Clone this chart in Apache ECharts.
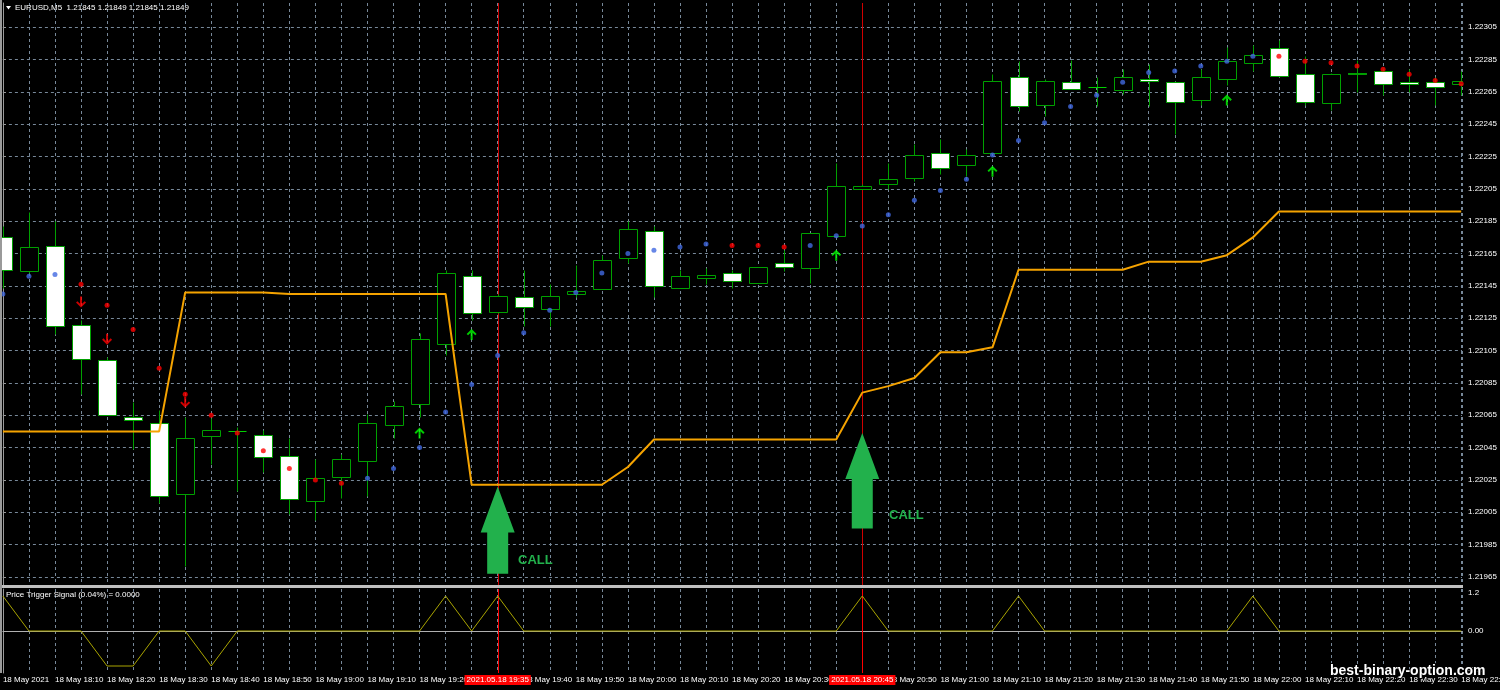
<!DOCTYPE html>
<html><head><meta charset="utf-8">
<script src="https://cdn.jsdelivr.net/npm/echarts@6/dist/echarts.min.js"></script>
<style>html,body{margin:0;padding:0;background:#000;}#c{width:1500px;height:690px;}</style>
</head><body><div id="c"></div>
<script>
// ---------- DATA ----------
const times = ['18:00','18:05','18:10','18:15','18:20','18:25','18:30','18:35','18:40','18:45','18:50','18:55',
'19:00','19:05','19:10','19:15','19:20','19:25','19:30','19:35','19:40','19:45','19:50','19:55',
'20:00','20:05','20:10','20:15','20:20','20:25','20:30','20:35','20:40','20:45','20:50','20:55',
'21:00','21:05','21:10','21:15','21:20','21:25','21:30','21:35','21:40','21:45','21:50','21:55',
'22:00','22:05','22:10','22:15','22:20','22:25','22:30','22:35','22:40'];
const opens  = [1.22175,1.22154,1.22170,1.22121,1.22099,1.22064,1.22060,1.22016,1.22052,1.22055,
1.22053,1.22040,1.22012,1.22027,1.22037,1.22059,1.22072,1.22109,1.22151,1.22129,
1.22138,1.22131,1.22140,1.22143,1.22162,1.22179,1.22144,1.22150,1.22153,1.22147,
1.22159,1.22156,1.22176,1.22205,1.22208,1.22212,1.22227,1.22220,1.22227,1.22274,
1.22257,1.22271,1.22268,1.22266,1.22273,1.22271,1.22260,1.22273,1.22283,1.22292,
1.22276,1.22258,1.22277,1.22278,1.22271,1.22271,1.22270];
const closes = [1.22155,1.22169,1.22120,1.22100,1.22065,1.22062,1.22015,1.22051,1.22056,1.22055,
1.22039,1.22013,1.22026,1.22038,1.22060,1.22071,1.22112,1.22153,1.22128,1.22139,
1.22132,1.22139,1.22142,1.22161,1.22180,1.22145,1.22151,1.22152,1.22148,1.22157,
1.22157,1.22178,1.22207,1.22207,1.22211,1.22226,1.22218,1.22226,1.22272,1.22256,
1.22272,1.22267,1.22268,1.22274,1.22272,1.22259,1.22274,1.22284,1.22288,1.22275,
1.22259,1.22276,1.22276,1.22270,1.22270,1.22268,1.22272];
const lows   = [1.22144,1.22153,1.22115,1.22078,1.22065,1.22044,1.22011,1.21972,1.22035,1.22018,
1.22030,1.22004,1.22000,1.22014,1.22015,1.22051,1.22064,1.22102,1.22124,1.22128,
1.22120,1.22120,1.22138,1.22143,1.22159,1.22138,1.22144,1.22146,1.22144,1.22147,
1.22154,1.22147,1.22176,1.22205,1.22205,1.22210,1.22214,1.22213,1.22227,1.22253,
1.22250,1.22267,1.22256,1.22264,1.22256,1.22239,1.22257,1.22269,1.22278,1.22274,
1.22257,1.22254,1.22265,1.22263,1.22265,1.22257,1.22263];
const highs  = [1.22182,1.22191,1.22185,1.22124,1.22101,1.22073,1.22068,1.22064,1.22063,1.22058,
1.22056,1.22051,1.22038,1.22041,1.22066,1.22074,1.22116,1.22155,1.22155,1.22140,
1.22155,1.22146,1.22158,1.22164,1.22185,1.22182,1.22155,1.22156,1.22155,1.22157,
1.22167,1.22178,1.22221,1.22208,1.22221,1.22233,1.22236,1.22230,1.22276,1.22284,
1.22273,1.22285,1.22274,1.22279,1.22282,1.22272,1.22279,1.22293,1.22294,1.22297,
1.22287,1.22277,1.22285,1.22280,1.22279,1.22274,1.22278];
const trendLine = [1.22055,1.22055,1.22055,1.22055,1.22055,1.22055,1.22055,1.22141,1.22141,1.22141,
1.22141,1.22140,1.22140,1.22140,1.22140,1.22140,1.22140,1.22140,1.22022,1.22022,
1.22022,1.22022,1.22022,1.22022,1.22033,1.22050,1.22050,1.22050,1.22050,1.22050,
1.22050,1.22050,1.22050,1.22079,1.22083,1.22088,1.22104,1.22104,1.22107,1.22155,
1.22155,1.22155,1.22155,1.22155,1.22160,1.22160,1.22160,1.22164,1.22175,1.22191,
1.22191,1.22191,1.22191,1.22191,1.22191,1.22191,1.22191];
const dotPrices = [1.22140,1.22151,1.22152,1.22146,1.22133,1.22118,1.22094,1.22078,1.22065,1.22054,
1.22043,1.22032,1.22025,1.22023,1.22026,1.22032,1.22045,1.22067,1.22084,1.22102,
1.22116,1.22130,1.22141,1.22153,1.22165,1.22167,1.22169,1.22171,1.22170,1.22170,
1.22169,1.22170,1.22176,1.22182,1.22189,1.22198,1.22204,1.22211,1.22226,1.22235,
1.22246,1.22256,1.22263,1.22271,1.22277,1.22278,1.22281,1.22284,1.22287,1.22287,
1.22284,1.22283,1.22281,1.22279,1.22276,1.22272,1.22270];
const dotSides = 'BBBRRRRRRRRRRRBBBBBBBBBBBBBBRRRBBBBBBBBBBBBBBBBBBRRRRRRRR';
const upArrows = [[16,1.22054],[18,1.22115],[32,1.22164],[38,1.22216],[47,1.22260]];
const downArrows = [[3,1.22135],[4,1.22112],[7,1.22073]];
const signal = [1,0,0,0,-1,-1,0,0,-1,0, 0,0,0,0,0,0,0,1,0,1, 0,0,0,0,0,0,0,0,0,0,
0,0,0,1,0,0,0,0,0,1, 0,0,0,0,0,0,0,0,1,0, 0,0,0,0,0,0,0];
const signalLines = [19, 33];
// [index, arrow tip price, arrow base price, label index, label price]
const callArrows = [[19,1.22021,1.21967,19.78,1.21975],[33,1.22054,1.21995,34.03,1.22003]];
const priceTicks = [1.21965,1.21985,1.22005,1.22025,1.22045,1.22065,1.22085,1.22105,1.22125,
1.22145,1.22165,1.22185,1.22205,1.22225,1.22245,1.22265,1.22285,1.22305];
const subTickPos = [1.1, 0, -1.1];
const subTickText = ['1.2', '0.00', '-1.2'];
const headerText = 'EURUSD,M5  1.21845 1.21849 1.21845 1.21849';
const subHeaderText = 'Price Trigger Signal (0.04%) = 0.0000';

// ---------- CHART ----------
const FONT = '"Liberation Sans", Arial, sans-serif';
const GREEN = '#00a000';
const GRIDC = '#778899';
const chart = echarts.init(document.getElementById('c'), null, {renderer:'canvas', width:1500, height:690});

const candleData = opens.map((o,i)=>[i,o,closes[i],lows[i],highs[i]]);
const blueDots = [], redDots = [];
dotPrices.forEach((p,i)=>{ (dotSides[i]==='B'?blueDots:redDots).push([i,p]); });

function renderCandle(params, api){
  const i = api.value(0);
  const o = api.coord([i, api.value(1)]), c = api.coord([i, api.value(2)]);
  const l = api.coord([i, api.value(3)]), h = api.coord([i, api.value(4)]);
  const x = Math.round(o[0]) + 0.5;
  const top = Math.round(Math.min(o[1], c[1])) + 0.5, bot = Math.round(Math.max(o[1], c[1])) + 0.5;
  const hy = Math.round(h[1]) + 0.5, ly = Math.round(l[1]) + 0.5;
  const half = 9;
  const bear = api.value(2) < api.value(1);
  const ch = [];
  const ls = {stroke: GREEN, lineWidth: 1};
  if (hy < top) ch.push({type:'line', shape:{x1:x,y1:hy,x2:x,y2:top}, style:ls});
  if (ly > bot) ch.push({type:'line', shape:{x1:x,y1:bot,x2:x,y2:ly}, style:ls});
  if (bot - top < 1) ch.push({type:'line', shape:{x1:x-half,y1:top,x2:x+half,y2:top}, style:{stroke:'#00d000',lineWidth:1}});
  else ch.push({type:'rect', shape:{x:x-half,y:top,width:2*half,height:bot-top}, style:{fill: bear?'#ffffff':'#000000', stroke:GREEN, lineWidth:1}});
  return {type:'group', children: ch};
}
function renderCall(params, api){
  const i = api.value(0);
  const tip = api.coord([i, api.value(1)]), base = api.coord([i, api.value(2)]);
  const lab = api.coord([api.value(3), api.value(4)]);
  const x = tip[0], ty = tip[1], by = base[1];
  return {type:'group', children:[
    {type:'polygon', shape:{points:[[x,ty],[x+17,ty+46],[x+10.5,ty+46],[x+10.5,by],[x-10.5,by],[x-10.5,ty+46],[x-17,ty+46]]}, style:{fill:'#22b14c'}},
    {type:'text', x:lab[0], y:lab[1], style:{text:'CALL', fill:'#22b14c', font:'bold 13px '+FONT, align:'left', verticalAlign:'middle'}}
  ]};
}
function makeVLine(color){
  return function(params, api){
    const cs = params.coordSys;
    const x = Math.round(api.coord([api.value(0), api.value(1)])[0]) + 0.5;
    return {type:'line', shape:{x1:x, y1:cs.y, x2:x, y2:cs.y+cs.height}, style:{stroke:color, lineWidth:1}};
  };
}
const arrowPath = 'path://M5,0 L10,5 L8.6,6.4 L6,3.8 L6,11 L4,11 L4,3.8 L1.4,6.4 L0,5 Z';
const XMAX = 56.03;
const xBase = {type:'value', min:0, max:XMAX, interval:1, axisLine:{show:false}, axisTick:{show:false},
  splitLine:{show:true, lineStyle:{color:GRIDC, type:[3,3], width:1}}};

const option = {
  backgroundColor:'#000000',
  animation:false,
  grid:[
    {left:2.9, right:38, top:3, height:582, show:false, outerBoundsMode:'none', containLabel:false},
    {left:2.9, right:38, top:589, height:84, show:false, outerBoundsMode:'none', containLabel:false}
  ],
  xAxis:[
    Object.assign({}, xBase, {gridIndex:0, axisLabel:{show:false}}),
    Object.assign({}, xBase, {gridIndex:1, position:'bottom',
      axisLine:{show:true, lineStyle:{color:'#b0b0b0'}},
      axisLabel:{show:true, color:'#ffffff', fontSize:8, fontFamily:FONT, align:'left', margin:3,
        showMaxLabel:false, hideOverlap:false,
        formatter:(v)=>{ if (Math.abs(v-Math.round(v))>1e-6) return ''; const i=Math.round(v); if(i%2) return ''; return i===0?'18 May 2021':'18 May '+times[i]; }}}),
    {type:'value', gridIndex:1, min:0, max:XMAX, position:'bottom', z:10,
      axisLine:{show:false}, axisTick:{show:false}, splitLine:{show:false},
      axisLabel:{show:true, customValues:signalLines, color:'#ffffff', fontSize:8, fontFamily:FONT, align:'center', margin:2,
        backgroundColor:'#ff0000', padding:[1,2,1,2],
        formatter:(v)=>'2021.05.18 '+times[Math.round(v)]}}
  ],
  yAxis:[
    {type:'value', gridIndex:0, min:1.2196, max:1.2232, position:'right',
      axisLine:{show:true, lineStyle:{color:'#9a9a9a'}},
      axisTick:{show:true, customValues:priceTicks, length:3, lineStyle:{color:'#9a9a9a'}},
      axisLabel:{show:true, customValues:priceTicks, color:'#ffffff', fontSize:8, fontFamily:FONT, margin:6, formatter:(v)=>v.toFixed(5)},
      splitLine:{show:true, lineStyle:{color:GRIDC, type:[3,3], width:1}}},
    {type:'value', gridIndex:1, min:-1.2, max:1.2, position:'right',
      axisLine:{show:true, lineStyle:{color:'#9a9a9a'}},
      axisTick:{show:false, customValues:[0]},
      axisLabel:{show:true, customValues:subTickPos, color:'#ffffff', fontSize:8, fontFamily:FONT, margin:6,
        formatter:(v)=>subTickText[subTickPos.findIndex(p=>Math.abs(p-v)<1e-6)]},
      splitLine:{show:true, lineStyle:{color:GRIDC, type:[3,3], width:1}}}
  ],
  series:[
    {type:'custom', name:'vlines', xAxisIndex:0, yAxisIndex:0, renderItem:makeVLine('#d00000'), data:signalLines.map(v=>[v,1.221]), z:1, encode:{x:0,y:1}, silent:true},
    {type:'custom', name:'candles', xAxisIndex:0, yAxisIndex:0, renderItem:renderCandle, data:candleData, clip:true, z:2,
      encode:{x:0, y:[1,2,3,4]}},
    {type:'line', name:'trend', xAxisIndex:0, yAxisIndex:0, data:trendLine.map((v,i)=>[i,v]), showSymbol:false, z:3,
      lineStyle:{color:'#f5a300', width:2}, clip:true},
    {type:'scatter', name:'blue', xAxisIndex:0, yAxisIndex:0, data:blueDots, symbolSize:5, itemStyle:{color:'#4169e1'}, z:4},
    {type:'scatter', name:'red', xAxisIndex:0, yAxisIndex:0, data:redDots, symbolSize:5, itemStyle:{color:'#ff0000'}, z:4},
    {type:'scatter', name:'up', xAxisIndex:0, yAxisIndex:0, data:upArrows, symbol:arrowPath, symbolSize:[10,11], itemStyle:{color:'#00ff00'}, z:4},
    {type:'scatter', name:'down', xAxisIndex:0, yAxisIndex:0, data:downArrows, symbol:arrowPath, symbolRotate:180, symbolSize:[10,11], itemStyle:{color:'#ff0000'}, z:4},
    {type:'custom', name:'call', xAxisIndex:0, yAxisIndex:0, renderItem:renderCall, data:callArrows, z:10, encode:{x:0,y:1}},
    {type:'custom', name:'vlines2', xAxisIndex:1, yAxisIndex:1, renderItem:makeVLine('#ff0000'), data:signalLines.map(v=>[v,0]), z:1, encode:{x:0,y:1}, silent:true},
    {type:'line', name:'signal', xAxisIndex:1, yAxisIndex:1, data:signal.map((v,i)=>[i,v]), showSymbol:false, z:3,
      lineStyle:{color:'#a9a400', width:1}}
  ],
  graphic:[
    {type:'rect', shape:{x:0, y:585, width:1463, height:3}, style:{fill:'#c0c0c0'}, z:5},
    {type:'line', shape:{x1:1, y1:0, x2:1, y2:673}, style:{stroke:'#9a9a9a', lineWidth:2}, z:5},
    {type:'polygon', shape:{points:[[6,6],[11,6],[8.5,9.5]]}, style:{fill:'#ffffff'}, z:5},
    {type:'text', x:15, y:8, style:{text:headerText, fill:'#ffffff', font:'8px '+FONT, verticalAlign:'middle'}, z:5},
    {type:'text', x:6, y:595, style:{text:subHeaderText, fill:'#ffffff', font:'8px '+FONT, verticalAlign:'middle'}, z:5},
    {type:'text', x:1330, y:671, style:{text:'best-binary-option.com', fill:'#ffffff', font:'bold 14px '+FONT, verticalAlign:'middle', stroke:'#000000', lineWidth:2}, z:20}
  ]
};
chart.setOption(option);
</script></body></html>
